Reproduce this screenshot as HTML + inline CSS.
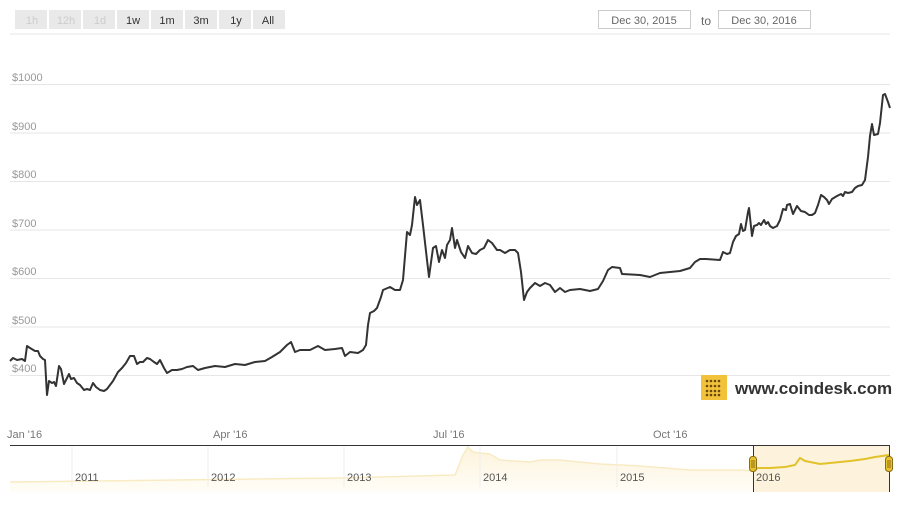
<!DOCTYPE html>
<html><head><meta charset="utf-8"><style>
body{margin:0;background:#fff;width:900px;height:500px;overflow:hidden;font-family:"Liberation Sans",sans-serif}
svg text{font-family:"Liberation Sans",sans-serif}
</style></head><body>
<svg width="900" height="500" viewBox="0 0 900 500">
<defs><linearGradient id="nf" x1="0" y1="0" x2="0" y2="1"><stop offset="0" stop-color="#fdf3dc"/><stop offset="1" stop-color="#fffdf7"/></linearGradient></defs>
<g font-size="11" text-anchor="middle">
<rect x="15" y="10" width="270" height="19" fill="#e9e9e9"/>
<g stroke="#fff" stroke-width="2"><line x1="48" y1="10" x2="48" y2="29"/><line x1="82" y1="10" x2="82" y2="29"/><line x1="116" y1="10" x2="116" y2="29"/><line x1="150" y1="10" x2="150" y2="29"/><line x1="184" y1="10" x2="184" y2="29"/><line x1="218" y1="10" x2="218" y2="29"/><line x1="252" y1="10" x2="252" y2="29"/></g>
<text x="32" y="24" fill="#ccc">1h</text><text x="66" y="24" fill="#ccc">12h</text><text x="100" y="24" fill="#ccc">1d</text>
<text x="133" y="24" fill="#333">1w</text><text x="167" y="24" fill="#333">1m</text><text x="201" y="24" fill="#333">3m</text><text x="236" y="24" fill="#333">1y</text><text x="268" y="24" fill="#333">All</text>
</g>
<rect x="598.5" y="10.5" width="92" height="18" fill="#fff" stroke="#ccc"/>
<text x="644" y="24" font-size="11" fill="#666" text-anchor="middle">Dec 30, 2015</text>
<text x="706" y="25" font-size="12" fill="#666" text-anchor="middle">to</text>
<rect x="718.5" y="10.5" width="92" height="18" fill="#fff" stroke="#ccc"/>
<text x="764" y="24" font-size="11" fill="#666" text-anchor="middle">Dec 30, 2016</text>
<line x1="10" y1="34" x2="890" y2="34" stroke="#e6e6e6"/>
<g stroke="#e6e6e6"><line x1="10" y1="84.5" x2="890" y2="84.5"/><line x1="10" y1="133" x2="890" y2="133"/><line x1="10" y1="181.5" x2="890" y2="181.5"/><line x1="10" y1="230" x2="890" y2="230"/><line x1="10" y1="278.5" x2="890" y2="278.5"/><line x1="10" y1="327" x2="890" y2="327"/><line x1="10" y1="375.5" x2="890" y2="375.5"/></g>
<g font-size="11" fill="#999"><text x="12" y="81">$1000</text><text x="12" y="130">$900</text><text x="12" y="178">$800</text><text x="12" y="227">$700</text><text x="12" y="275">$600</text><text x="12" y="324">$500</text><text x="12" y="372">$400</text></g>
<polyline fill="none" stroke="#333" stroke-width="2" stroke-linejoin="round" points="10,361 13,358 17,360 22,359 25,361 27,346 30,348 35,351 38,351 40,356 43,359 45,360 47,395 49,381 52,383 54,382 56,386 59,366 61,369 64,384 66,380 69,374 71,379 74,378 77,383 80,385 84,390 87,389 90,390 93,383 96,387 100,390 104,391 107,389 110,385 113,381 118,372 122,368 126,363 130,356 134,356 137,364 140,362 143,362 147,358 150,359 154,362 157,364 160,360 164,368 167,373 172,370 177,370 182,369 187,367 193,366 198,370 205,368 215,366 225,367 235,364 245,365 255,362 265,361 272,357 280,352 287,345 291,342 295,352 300,350 310,350 318,346 325,350 335,349 342,348 345,356 350,352 358,353 363,350 366,345 368,325 370,313 374,311 377,308 381,297 383,290 390,287 395,290 400,290 403,280 407,232 410,235 412,225 415,197 417,205 420,200 423,225 427,260 429,277 433,248 436,246 439,262 442,250 445,258 447,245 450,240 452,228 455,248 457,240 461,252 465,258 468,246 472,253 476,254 480,250 484,248 488,240 492,243 497,250 500,250 505,253 510,250 515,250 518,253 521,272 524,300 527,292 530,288 535,283 540,286 545,283 550,285 555,292 560,288 565,292 570,290 580,289 590,291 598,289 603,281 608,270 612,267 620,268 622,274 640,275 650,277 660,273 670,272 680,271 690,268 695,262 700,259 706,259 720,260 723,252 727,254 730,253 733,242 736,236 739,234 741,224 743,231 745,230 748,212 749,208 752,236 754,226 757,225 759,223 761,225 764,220 766,224 768,222 770,226 773,228 777,226 780,220 783,209 786,210 787,205 790,204 793,214 797,206 801,211 805,212 809,215 812,215 815,213 818,205 821,195 824,197 827,200 829,204 832,199 837,196 841,194 843,196 845,192 848,193 852,192 855,188 858,186 862,185 865,180 868,157 870,136 872,124 874,135 878,134 880,123 883,95 885,94 888,102 890,108"/>
<rect x="701" y="375" width="26" height="25" fill="#f2c33a"/>
<g fill="#6b4a10"><circle cx="707" cy="381" r="1.3"/><circle cx="711" cy="381" r="1.3"/><circle cx="715" cy="381" r="1.3"/><circle cx="719" cy="381" r="1.3"/><circle cx="707" cy="386" r="1.3"/><circle cx="711" cy="386" r="1.3"/><circle cx="715" cy="386" r="1.3"/><circle cx="719" cy="386" r="1.3"/><circle cx="707" cy="391" r="1.3"/><circle cx="711" cy="391" r="1.3"/><circle cx="715" cy="391" r="1.3"/><circle cx="719" cy="391" r="1.3"/><circle cx="707" cy="395" r="1.3"/><circle cx="711" cy="395" r="1.3"/><circle cx="715" cy="395" r="1.3"/><circle cx="719" cy="395" r="1.3"/></g>
<text x="735" y="394" font-size="17" font-weight="bold" fill="#333">www.coindesk.com</text>
<g font-size="11" fill="#777"><text x="7" y="438">Jan '16</text><text x="213" y="438">Apr '16</text><text x="433" y="438">Jul '16</text><text x="653" y="438">Oct '16</text></g>
<rect x="753" y="445" width="136" height="47" fill="#fdf3dc"/>
<path d="M10,482 L340,478 L380,477 L455,475 L463,455 L468,447 L473,452 L480,453 L490,454 L500,460 L530,462 L540,460 L560,460 L600,464 L640,466 L690,470 L740,470 L753,471 L753,492 L10,492Z" fill="url(#nf)"/>
<polyline fill="none" stroke="#f8ebc4" stroke-width="1.5" points="10,482 340,478 380,477 455,475 463,455 468,447 473,452 480,453 490,454 500,460 530,462 540,460 560,460 600,464 640,466 690,470 740,470 753,471"/>
<polyline fill="none" stroke="#e3c12a" stroke-width="2" points="753,470 758,468 770,468 785,467 795,465 800,458 805,461 820,464 840,462 850,461 865,459 875,457 889,455"/>
<g stroke="#eee"><line x1="72" y1="447" x2="72" y2="487"/><line x1="208" y1="447" x2="208" y2="487"/><line x1="344" y1="447" x2="344" y2="487"/><line x1="480" y1="447" x2="480" y2="487"/><line x1="617" y1="447" x2="617" y2="487"/></g>
<path d="M10,445.5 H753.5 V492 M753.5,445.5 H889 M889.5,445 V492" fill="none" stroke="#333"/>
<g font-size="11" fill="#555"><text x="75" y="481">2011</text><text x="211" y="481">2012</text><text x="347" y="481">2013</text><text x="483" y="481">2014</text><text x="620" y="481">2015</text><text x="756" y="481">2016</text></g>
<g fill="#e9c12f" stroke="#8a6d10"><rect x="749.5" y="456.5" width="7" height="15" rx="3"/><rect x="885.5" y="456.5" width="7" height="15" rx="3"/></g>
<g stroke="#8a6d10"><line x1="752" y1="460" x2="752" y2="468"/><line x1="754" y1="460" x2="754" y2="468"/><line x1="888" y1="460" x2="888" y2="468"/><line x1="890" y1="460" x2="890" y2="468"/></g>
</svg>
</body></html>
